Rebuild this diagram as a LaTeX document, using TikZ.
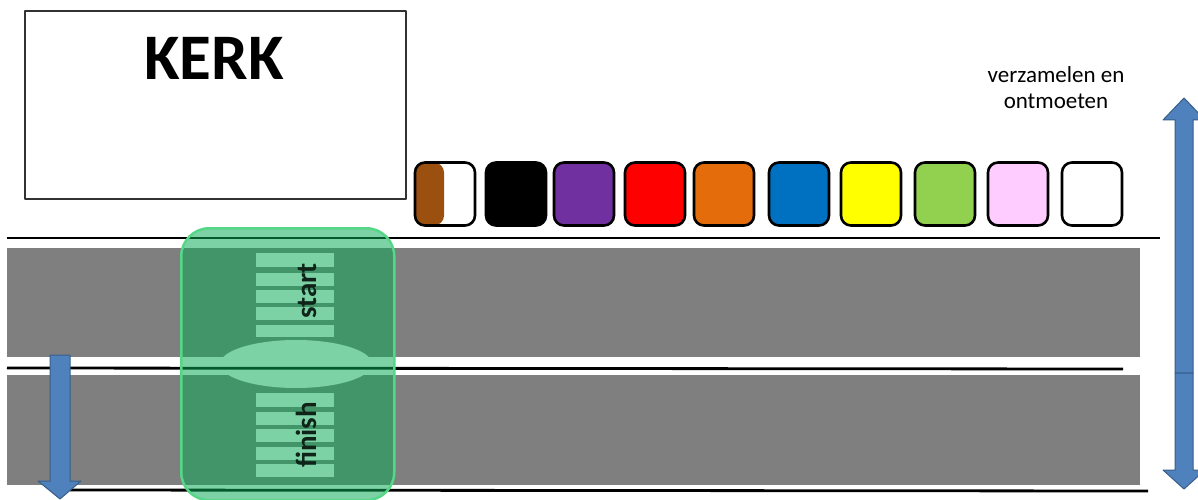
\documentclass[tikz,border=0pt]{standalone}
\usepackage{fontspec}
\setmainfont{Carlito}
\definecolor{road}{RGB}{127,127,127}
\definecolor{kerkline}{RGB}{50,50,50}
\definecolor{gfill}{RGB}{10,170,85}
\definecolor{gborder}{RGB}{85,215,135}
\definecolor{arrowblue}{RGB}{79,129,189}
\definecolor{arrowedge}{RGB}{56,93,138}
\definecolor{cbrown}{RGB}{155,80,15}
\definecolor{cpurple}{RGB}{112,48,160}
\definecolor{cred}{RGB}{255,0,0}
\definecolor{corange}{RGB}{228,108,10}
\definecolor{cblue}{RGB}{0,112,192}
\definecolor{cyellow}{RGB}{255,255,0}
\definecolor{cgreen}{RGB}{146,208,80}
\definecolor{cpink}{RGB}{255,204,255}
\definecolor{lbltext}{RGB}{15,35,25}
\begin{document}
\begin{tikzpicture}[x=1pt,y=-1pt,line join=round,
  sq/.style={draw=black,line width=2.6pt,rounded corners=10pt,minimum width=60pt,minimum height=63pt,inner sep=0pt},
  roadline/.style={draw=black,line width=2.8pt},
  blockarrow/.style={fill=arrowblue,draw=arrowedge,line width=1pt},
  zebra/.style={fill=white},
  lbl/.style={text=lbltext,font=\bfseries\fontsize{29}{29}\selectfont,rotate=90,anchor=base,inner sep=0pt}]
\useasboundingbox (0,0) rectangle (1198,500);
\fill[white] (0,0) rectangle (1198,500);
% church
\node[draw=kerkline,line width=1.6pt,minimum width=381pt,minimum height=188pt,inner sep=0pt,anchor=north west] (kerk) at (24,10) {};
\node[font=\bfseries\fontsize{65}{65}\selectfont,anchor=base,inner sep=0pt] (kerklabel) at (214,80) {KERK};
% label top right
\node[align=center,font=\fontsize{23}{26}\selectfont,inner sep=0pt] (vz) at (1056,88) {verzamelen en\\ontmoeten};
% roads
\fill[road] (7,248) rectangle (1140,357);
\fill[road] (7,375) rectangle (1140,485);
% zebra crossings and roundabout
\foreach \a/\b in {253/267,273/286,290/303,307/320,325/337,393/407,412/425,429/442,447/460,464/477}
  \fill[zebra] (256,\a) rectangle (334,\b);
\fill[zebra] (296,364) ellipse [x radius=76, y radius=24];
% lines
\draw[roadline] (7,238) -- (1160,238);
\draw[roadline] (7,368) -- (1123,369);
\draw[roadline] (70,490) -- (1148,491);
% green zone
\node[draw=gborder,line width=2.5pt,fill=gfill,fill opacity=0.53,rounded corners=28pt,minimum width=213pt,minimum height=272pt,inner sep=0pt,anchor=north west] (zone) at (180,227) {};
\node[lbl] (start) at (316,291) {start};
\node[lbl] (finish) at (316,435) {finish};
% colour squares
\node[sq,fill=white,path picture={\fill[cbrown] (path picture bounding box.north west) rectangle ([xshift=-1pt]path picture bounding box.south);}] (s1) at (445,194) {};
\node[sq,fill=black] (s2) at (516,194) {};
\node[sq,fill=cpurple] (s3) at (584,194) {};
\node[sq,fill=cred] (s4) at (655,194) {};
\node[sq,fill=corange] (s5) at (724,194) {};
\node[sq,fill=cblue] (s6) at (799,194) {};
\node[sq,fill=cyellow] (s7) at (871,194) {};
\node[sq,fill=cgreen] (s8) at (945,194) {};
\node[sq,fill=cpink] (s9) at (1018,194) {};
\node[sq,fill=white] (s10) at (1092,194) {};
% arrows
\draw[blockarrow] (50,355) -- (70,355) -- (70,481) -- (81,481) -- (60,499) -- (38,481) -- (50,481) -- cycle;
\draw[blockarrow] (1175,373) -- (1175,120) -- (1163,120) -- (1184,98) -- (1205,120) -- (1193,120) -- (1193,373) -- cycle;
\draw[blockarrow] (1175,373) -- (1175,470) -- (1163,470) -- (1184,489) -- (1205,470) -- (1193,470) -- (1193,373) -- cycle;
\end{tikzpicture}
\end{document}
